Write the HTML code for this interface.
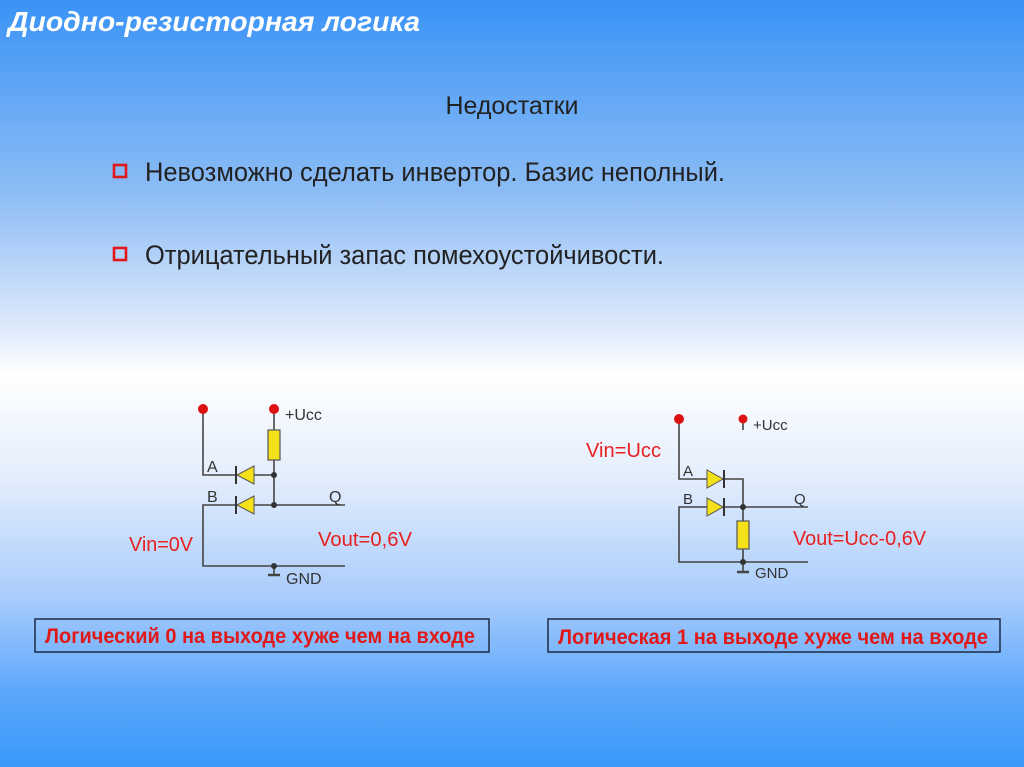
<!DOCTYPE html>
<html><head><meta charset="utf-8"><style>
html,body{margin:0;padding:0;width:1024px;height:767px;overflow:hidden}
body{background:linear-gradient(to bottom,#3a93f6 0%,#8cbcf5 25%,#dfeafb 43%,#ffffff 49%,#e4eefc 62%,#a9ccfb 78%,#5da8fb 90%,#3a9afa 100%)}
svg{position:absolute;left:0;top:0}
</style></head><body>
<svg width="1024" height="767" xmlns="http://www.w3.org/2000/svg" font-family="Liberation Sans, sans-serif">
<text x="8" y="31" font-size="28" font-weight="bold" font-style="italic" fill="#fff" textLength="412" lengthAdjust="spacingAndGlyphs">Диодно-резисторная логика</text>
<text x="512" y="114" font-size="25" fill="#222" text-anchor="middle" textLength="133" lengthAdjust="spacingAndGlyphs">Недостатки</text>
<g>
<rect x="114" y="165" width="12" height="12" fill="none" stroke="#e01818" stroke-width="2.6"/>
<rect x="114" y="248" width="12" height="12" fill="none" stroke="#e01818" stroke-width="2.6"/>
</g>
<text x="145" y="181" font-size="27" fill="#222" textLength="580" lengthAdjust="spacingAndGlyphs">Невозможно сделать инвертор. Базис неполный.</text>
<text x="145" y="264" font-size="27" fill="#222" textLength="519" lengthAdjust="spacingAndGlyphs">Отрицательный запас помехоустойчивости.</text>

<!-- left circuit -->
<g stroke="#444" stroke-width="1.6" fill="none">
<polyline points="203,409 203,475 274,475"/>
<line x1="274" y1="409" x2="274" y2="505"/>
<polyline points="345,505 203,505 203,566 345,566"/>
<line x1="274" y1="566" x2="274" y2="574"/>
<line x1="268" y1="575" x2="280" y2="575" stroke-width="2.5"/>
</g>
<rect x="268" y="430" width="12" height="30" fill="#f5e11a" stroke="#555" stroke-width="1.2"/>
<polygon points="254,466 254,484 237,475" fill="#f5e11a" stroke="#555" stroke-width="1"/>
<line x1="236" y1="466" x2="236" y2="484" stroke="#333" stroke-width="2"/>
<polygon points="254,496 254,514 237,505" fill="#f5e11a" stroke="#555" stroke-width="1"/>
<line x1="236" y1="496" x2="236" y2="514" stroke="#333" stroke-width="2"/>
<circle cx="203" cy="409" r="5" fill="#d11"/><circle cx="274" cy="409" r="5" fill="#d11"/>
<circle cx="274" cy="475" r="3" fill="#333"/><circle cx="274" cy="505" r="3" fill="#333"/><circle cx="274" cy="566" r="3" fill="#333"/>
<g font-size="16" fill="#333">
<text x="285" y="420">+Ucc</text><text x="207" y="472">A</text><text x="207" y="502">B</text><text x="329" y="502">Q</text><text x="286" y="584">GND</text>
</g>
<text x="129" y="551" font-size="20" fill="#e82020" textLength="64" lengthAdjust="spacingAndGlyphs">Vin=0V</text>
<text x="318" y="546" font-size="20" fill="#e82020" textLength="94" lengthAdjust="spacingAndGlyphs">Vout=0,6V</text>

<!-- right circuit -->
<g stroke="#444" stroke-width="1.6" fill="none">
<polyline points="679,419 679,479 743,479 743,562"/>
<polyline points="808,507 679,507 679,562 808,562"/>
<line x1="743" y1="419" x2="743" y2="430"/>
<line x1="743" y1="562" x2="743" y2="571"/>
<line x1="737" y1="572" x2="749" y2="572" stroke-width="2.5"/>
</g>
<rect x="737" y="521" width="12" height="28" fill="#f5e11a" stroke="#555" stroke-width="1.2"/>
<polygon points="707,470 707,488 723,479" fill="#f5e11a" stroke="#555" stroke-width="1"/>
<line x1="724" y1="470" x2="724" y2="488" stroke="#333" stroke-width="2"/>
<polygon points="707,498 707,516 723,507" fill="#f5e11a" stroke="#555" stroke-width="1"/>
<line x1="724" y1="498" x2="724" y2="516" stroke="#333" stroke-width="2"/>
<circle cx="679" cy="419" r="5" fill="#d11"/><circle cx="743" cy="419" r="4.5" fill="#d11"/>
<circle cx="743" cy="507" r="3" fill="#333"/><circle cx="743" cy="562" r="3" fill="#333"/>
<g font-size="15" fill="#333">
<text x="753" y="430">+Ucc</text><text x="683" y="476">A</text><text x="683" y="504">B</text><text x="794" y="504">Q</text><text x="755" y="578">GND</text>
</g>
<text x="586" y="457" font-size="20" fill="#e82020" textLength="75" lengthAdjust="spacingAndGlyphs">Vin=Ucc</text>
<text x="793" y="545" font-size="20" fill="#e82020" textLength="133" lengthAdjust="spacingAndGlyphs">Vout=Ucc-0,6V</text>

<!-- boxes -->
<rect x="35" y="619" width="454" height="33" fill="none" stroke="#1c2a44" stroke-width="1.5"/>
<rect x="548" y="619" width="452" height="33" fill="none" stroke="#1c2a44" stroke-width="1.5"/>
<text x="45" y="643" font-size="21" font-weight="bold" fill="#e01818" textLength="430" lengthAdjust="spacingAndGlyphs">Логический 0 на выходе хуже чем на входе</text>
<text x="558" y="644" font-size="21" font-weight="bold" fill="#e01818" textLength="430" lengthAdjust="spacingAndGlyphs">Логическая 1 на выходе хуже чем на входе</text>
</svg>
</body></html>
